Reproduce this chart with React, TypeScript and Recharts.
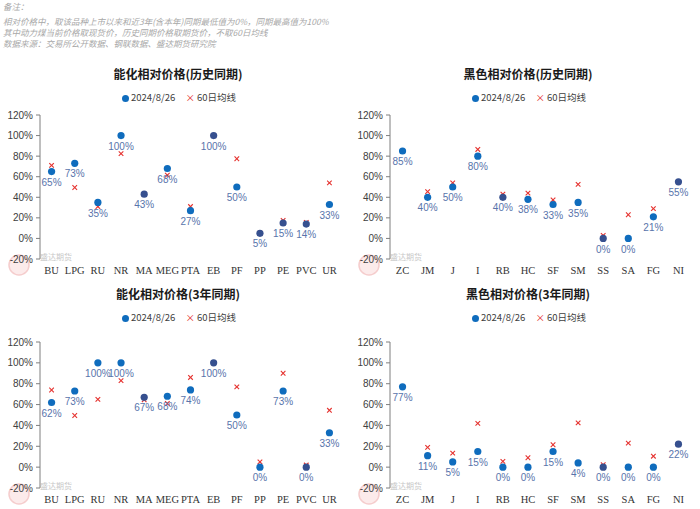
import React from 'react';
import { ComposedChart, Line, XAxis, YAxis, LabelList } from 'recharts';

// 能化 categories
const nhCats = ['BU', 'LPG', 'RU', 'NR', 'MA', 'MEG', 'PTA', 'EB', 'PF', 'PP', 'PE', 'PVC', 'UR'];
const nhHistCur = [65, 73, 35, 100, 43, 68, 27, 100, 50, 5, 15, 14, 33];
const nhHistMa = [71, 49.5, 31, 82.5, 43, 61.5, 31, 100, 77.5, 5, 17.5, 15.5, 54];
const nh3yCur = [62, 73, 100, 100, 67, 68, 74, 100, 50, 0, 73, 0, 33];
const nh3yMa = [74, 49.5, 65, 83, 64.5, 61, 86, 100, 77, 5, 90, 2, 54.5];

// 黑色 categories (ZC has no 60日均线)
const hsCats = ['ZC', 'JM', 'J', 'I', 'RB', 'HC', 'SF', 'SM', 'SS', 'SA', 'FG', 'NI'];
const hsHistCur = [85, 40, 50, 80, 40, 38, 33, 35, 0, 0, 21, 55];
const hsHistMa = [null, 45.5, 54, 86.5, 43, 44, 37.5, 52.5, 3, 23, 29, 55];
const hs3yCur = [77, 11, 5, 15, 0, 0, 15, 4, 0, 0, 0, 22];
const hs3yMa = [null, 19, 13.5, 42, 5.5, 9, 21.5, 42.5, 2.3, 23, 10.5, 22];

const yTicks = [-20, 0, 20, 40, 60, 80, 100, 120];

const notes = [
  '备注：',
  '相对价格中，取该品种上市以来和近3年(含本年)同期最低值为0%，同期最高值为100%',
  '其中动力煤当前价格取现货价，历史同期价格取期货价，不取60日均线',
  '数据来源：交易所公开数据、钢联数据、盛达期货研究院',
];
const noteTops = [1, 15.5, 26.5, 37.5];

const BLUE = '#0f6cbd';
const DARK = '#36508f';
const RED = '#e5322f';
const CJK = '"Noto Sans CJK SC", "DejaVu Sans", sans-serif';
const PLOT_W = 301;

function DotMark(p: any) {
  if (p.cx == null || p.cy == null || p.value == null) return <g key={`c${p.index}`} />;
  const ma = p.payload.ma;
  const near = ma != null && Math.abs(ma - p.payload.cur) <= 3.5;
  return <circle key={`c${p.index}`} cx={p.cx} cy={p.cy} r={3.6} fill={near ? DARK : BLUE} />;
}

function CrossMark(p: any) {
  if (p.cx == null || p.cy == null || p.value == null) return <g key={`x${p.index}`} />;
  const s = 2.3;
  return (
    <g key={`x${p.index}`} stroke={RED} strokeWidth={1.1}>
      <line x1={p.cx - s} y1={p.cy - s} x2={p.cx + s} y2={p.cy + s} />
      <line x1={p.cx - s} y1={p.cy + s} x2={p.cx + s} y2={p.cy - s} />
    </g>
  );
}

function Panel({
  title,
  cats,
  cur,
  ma,
  left,
  top,
  height,
  marginTop,
}: {
  title: string;
  cats: string[];
  cur: number[];
  ma: (number | null)[];
  left: number;
  top: number;
  height: number;
  marginTop: number;
}) {
  const rows = cats.map((c, i) => ({ cat: c, cur: cur[i], ma: ma[i] }));
  const half = PLOT_W / cats.length / 2;
  return (
    <div style={{ position: 'absolute', left, top, width: 350, height }}>
      <div
        style={{
          position: 'absolute',
          left: 0,
          width: 356,
          top: 5,
          textAlign: 'center',
          fontFamily: CJK,
          fontWeight: 700,
          fontSize: 12,
          color: '#1a1a1a',
          lineHeight: '18px',
        }}
      >
        {title}
      </div>
      <div
        style={{
          position: 'absolute',
          left: 0,
          width: 358,
          top: 30,
          textAlign: 'center',
          fontFamily: CJK,
          fontSize: 9.5,
          color: '#404040',
          lineHeight: '14px',
        }}
      >
        <span style={{ display: 'inline-block', width: 7, height: 7, borderRadius: 4, background: BLUE, marginRight: 2, verticalAlign: -0.5 }} />
        2024/8/26
        <span style={{ color: RED, marginLeft: 10, marginRight: 2 }}>×</span>
        60日均线
      </div>
      {/* watermark */}
      <svg style={{ position: 'absolute', left: 0, top: height - 40 }} width={90} height={40}>
        <circle cx={19} cy={25} r={10} fill="#fbe3e3" stroke="#f2b8b8" strokeWidth={1.5} opacity={0.7} />
        <text x={40} y={20} fontSize={8} fill="#c8c8c8" fontFamily={CJK}>盛达期货</text>
      </svg>
      <ComposedChart
        width={350}
        height={height}
        data={rows}
        margin={{ top: marginTop, right: 9, left: 0, bottom: 0 }}
        style={{ position: 'absolute', left: 0, top: 0 }}
      >
        <XAxis
          dataKey="cat"
          interval={0}
          axisLine={false}
          tickLine={false}
          height={21}
          padding={{ left: half, right: half }}
          tick={{ fontSize: 10.5, fill: '#333', fontFamily: '"Liberation Serif", serif' }}
        />
        <YAxis
          domain={[-20, 120]}
          ticks={yTicks}
          width={40}
          tickSize={4}
          tickMargin={3}
          allowDataOverflow
          tickFormatter={(v: number) => `${v}%`}
          axisLine={{ stroke: '#7f7f7f' }}
          tickLine={{ stroke: '#7f7f7f' }}
          tick={{ fontSize: 10, fill: '#404040', fontFamily: '"Liberation Sans", sans-serif' }}
        />
        <Line dataKey="ma" stroke="none" dot={CrossMark} activeDot={false} isAnimationActive={false} connectNulls={false} />
        <Line dataKey="cur" stroke="none" dot={DotMark} activeDot={false} isAnimationActive={false}>
          <LabelList
            dataKey="cur"
            position="bottom"
            offset={7}
            formatter={(v: any) => `${v}%`}
            fill="#5874ab"
            fontSize={10}
            fontFamily='"Liberation Sans", sans-serif'
          />
        </Line>
      </ComposedChart>
    </div>
  );
}

export default function App() {
  return (
    <div style={{ position: 'absolute', left: 0, top: 0, width: 700, height: 509, background: '#fff', overflow: 'hidden' }}>
      {notes.map((t, i) => (
        <div
          key={i}
          style={{
            position: 'absolute',
            left: 3,
            top: noteTops[i],
            fontFamily: CJK,
            fontSize: 8.5,
            fontStyle: 'italic',
            color: '#a8a8a8',
            lineHeight: '10px',
            whiteSpace: 'nowrap',
          }}
        >
          {t}
        </div>
      ))}
      <Panel title="能化相对价格(历史同期)" cats={nhCats} cur={nhHistCur} ma={nhHistMa} left={0} top={60} height={220} marginTop={55} />
      <Panel title="黑色相对价格(历史同期)" cats={hsCats} cur={hsHistCur} ma={hsHistMa} left={350} top={60} height={220} marginTop={55} />
      <Panel title="能化相对价格(3年同期)" cats={nhCats} cur={nh3yCur} ma={nh3yMa} left={0} top={280} height={229} marginTop={62} />
      <Panel title="黑色相对价格(3年同期)" cats={hsCats} cur={hs3yCur} ma={hs3yMa} left={350} top={280} height={229} marginTop={62} />
    </div>
  );
}
